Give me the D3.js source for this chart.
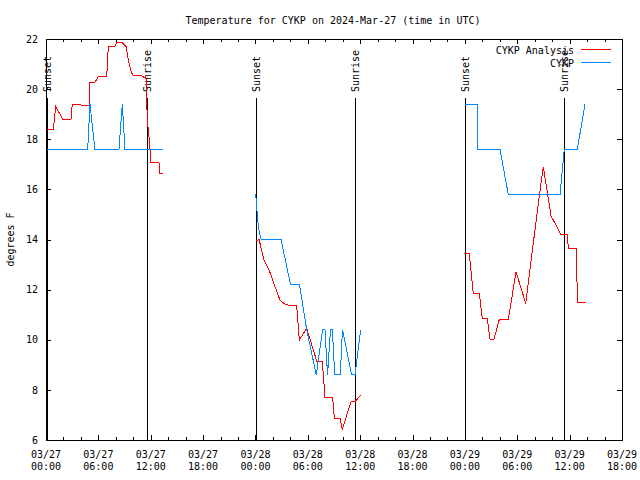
<!DOCTYPE html>
<html>
<head>
<meta charset="utf-8">
<script src="https://cdn.jsdelivr.net/npm/d3@7"></script>
<style>
  body { margin: 0; background: #fff; }
  text { font-family: "DejaVu Sans Mono", monospace; font-size: 10px; fill: #000; }
</style>
</head>
<body>
<svg id="chart" width="640" height="480"></svg>
<script>
// ---------------- data ----------------
const titleText = "Temperature for CYKP on 2024-Mar-27 (time in UTC)";
const yLabelText = "degrees F";
const startTime = "2024-03-27T00:00:00Z";
const spanHours = 66;
const xTickHours = [0, 6, 12, 18, 24, 30, 36, 42, 48, 54, 60, 66];
const xMinorHours = [2, 4, 8, 10, 14, 16, 20, 22, 26, 28, 32, 34, 38, 40, 44, 46, 50, 52, 56, 58, 62, 64];
const yTicks = [6, 8, 10, 12, 14, 16, 18, 20, 22];
const seriesNames = ["CYKP Analysis", "CYKP"];
const seriesColors = ["#ff0000", "#0088ff"];
const sunLabels = ["Sunset", "Sunrise", "Sunset", "Sunrise", "Sunset", "Sunrise"];
const sunHours = [0.1, 11.61, 24.06, 35.44, 48.05, 59.39];

// CYKP Analysis (null = gap)
const analysisHours = [
  0, 0.84, 1.11, 1.98, 2.86, 3.01, 3.98, 4.09, 4.96, 5.04, 5.61, 5.99, 6.96, 7.14, 7.91, 8.10, 8.67,
  9.17, 9.43, 9.82, 10.00, 10.77, 11.46, 11.61, 11.84, 12.03, 12.95, 13.06, 13.44,
  18,
  24.03, 24.41, 24.98, 25.47, 25.86, 26.24, 26.81, 27.31, 27.96, 28.73, 29.03, 29.87, 31.02, 31.66,
  31.97, 32.85, 33.04, 33.69, 33.95, 34.95, 35.41, 36.06,
  42,
  47.93, 48.50, 48.96, 49.65, 49.99, 50.56, 50.88, 51.33, 51.94, 52.97, 53.86, 54.97, 56.41, 56.98,
  57.87, 59.01, 59.73, 59.85, 60.73, 60.92, 61.84
];
const analysisTemps = [
  18.37, 18.37, 19.3, 18.77, 18.77, 19.4, 19.4, 19.33, 19.33, 20.27, 20.27, 20.5, 20.5, 21.72, 21.72, 21.87, 21.87,
  21.7, 21.16, 20.63, 20.56, 20.56, 20.43, 18.77, 17.97, 17.06, 17.06, 16.64, 16.64,
  null,
  13.94, 14.0, 13.18, 12.85, 12.52, 12.12, 11.58, 11.44, 11.35, 11.35, 9.99, 10.46, 9.15, 9.15,
  7.69, 7.69, 6.86, 6.86, 6.42, 7.53, 7.53, 7.79,
  null,
  13.45, 13.45, 11.85, 11.85, 10.85, 10.85, 10.02, 10.02, 10.81, 10.81, 12.71, 11.45, 15.44, 16.9,
  14.94, 14.2, 14.2, 13.65, 13.65, 11.49, 11.49
];

// CYKP observations (null = gap)
const obsHours = [
  0, 4.78, 5.04, 5.61, 8.36, 8.74, 9.05, 13.44,
  18,
  24.03, 24.15, 24.33, 24.64, 26.93, 28.02, 29.05, 29.87, 30.97, 31.69, 31.97, 32.26, 32.6, 32.81,
  33.09, 33.72, 33.97, 35.01, 35.41, 36.06,
  42,
  48.01, 49.42, 49.44, 52.02, 52.97, 58.90, 59.39, 60.88, 61.76
];
const obsTemps = [
  17.6, 17.6, 19.4, 17.6, 17.6, 19.4, 17.6, 17.6,
  null,
  15.8, 15.24, 14.5, 14.0, 14.0, 12.2, 12.2, 10.4, 8.6, 10.4, 10.4, 8.6, 10.4, 10.4,
  8.6, 8.6, 10.4, 8.6, 8.6, 10.4,
  null,
  19.4, 19.4, 17.6, 17.6, 15.8, 15.8, 17.6, 17.6, 19.4
];

// ---------------- chart ----------------
const t0 = new Date(startTime);
const hoursToDate = h => new Date(t0.getTime() + h * 3600e3);

const mLeft = 46, mRight = 622, mTop = 39, mBottom = 440;
const svg = d3.select("#chart");

const x = d3.scaleUtc().domain([t0, hoursToDate(spanHours)]).range([mLeft, mRight]);
const y = d3.scaleLinear().domain([6, 22]).range([mBottom, mTop]);

function styleAxis(g) {
  g.select(".domain").remove();
  g.selectAll("line").attr("stroke", "#000").attr("shape-rendering", "crispEdges");
  g.selectAll("text").attr("font-family", null).attr("font-size", null);
}

// x ticks: major and minor, bottom and top, inward
const majorDates = xTickHours.map(hoursToDate);
const minorDates = xMinorHours.map(hoursToDate);
svg.append("g").attr("transform", `translate(0,${mBottom})`)
  .call(d3.axisBottom(x).tickValues(majorDates).tickSize(-5).tickFormat(""))
  .call(styleAxis);
svg.append("g").attr("transform", `translate(0,${mBottom})`)
  .call(d3.axisBottom(x).tickValues(minorDates).tickSize(-3).tickFormat(""))
  .call(styleAxis);
svg.append("g").attr("transform", `translate(0,${mTop})`)
  .call(d3.axisTop(x).tickValues(majorDates).tickSize(-5).tickFormat(""))
  .call(styleAxis);
svg.append("g").attr("transform", `translate(0,${mTop})`)
  .call(d3.axisTop(x).tickValues(minorDates).tickSize(-3).tickFormat(""))
  .call(styleAxis);

// y ticks: left with labels, right mirrored
svg.append("g").attr("transform", `translate(${mLeft},0)`)
  .call(d3.axisLeft(y).tickValues(yTicks).tickSize(-5).tickPadding(8).tickFormat(d3.format("d")))
  .call(styleAxis);
svg.append("g").attr("transform", `translate(${mRight},0)`)
  .call(d3.axisRight(y).tickValues(yTicks).tickSize(-5).tickFormat(""))
  .call(styleAxis);

// x tick labels (two lines)
const fmtDate = d3.utcFormat("%m/%d");
const fmtTime = d3.utcFormat("%H:%M");
const xl = svg.append("g").selectAll("text").data(majorDates).join("text")
  .attr("text-anchor", "middle");
xl.append("tspan").attr("x", d => x(d)).attr("y", mBottom + 17.5).text(fmtDate);
xl.append("tspan").attr("x", d => x(d)).attr("y", mBottom + 29.5).text(fmtTime);

// sunrise / sunset lines
const sun = svg.append("g");
sun.selectAll("line").data(sunHours).join("line")
  .attr("x1", h => Math.round(x(hoursToDate(h))) + 0.5)
  .attr("x2", h => Math.round(x(hoursToDate(h))) + 0.5)
  .attr("y1", 98).attr("y2", mBottom)
  .attr("stroke", "#000").attr("shape-rendering", "crispEdges");
sun.selectAll("text").data(sunHours).join("text")
  .attr("transform", h => `translate(${x(hoursToDate(h)) + 0.5},92) rotate(-90)`)
  .attr("dy", "0.36em")
  .attr("text-anchor", "start")
  .text((h, i) => sunLabels[i]);

// series lines
const line = d3.line()
  .defined(d => d[1] !== null)
  .x(d => x(hoursToDate(d[0])))
  .y(d => y(d[1]));

const analysisData = analysisHours.map((h, i) => [h, analysisTemps[i]]);
const obsData = obsHours.map((h, i) => [h, obsTemps[i]]);

svg.append("path").datum(analysisData)
  .attr("d", line).attr("fill", "none").attr("stroke", seriesColors[0]).attr("stroke-width", 1)
  .attr("shape-rendering", "crispEdges");
svg.append("path").datum(obsData)
  .attr("d", line).attr("fill", "none").attr("stroke", seriesColors[1]).attr("stroke-width", 1)
  .attr("shape-rendering", "crispEdges");

// frame
svg.append("rect")
  .attr("x", mLeft + 0.5).attr("y", mTop + 0.5)
  .attr("width", mRight - mLeft).attr("height", mBottom - mTop)
  .attr("fill", "none").attr("stroke", "#000").attr("shape-rendering", "crispEdges");

// legend
const legendY = [49.5, 62.5];
const lg = svg.append("g");
seriesNames.forEach((name, i) => {
  lg.append("text").attr("x", 574).attr("y", legendY[i] + 4).attr("text-anchor", "end").text(name);
  lg.append("line").attr("x1", 581).attr("x2", 611).attr("y1", legendY[i]).attr("y2", legendY[i])
    .attr("stroke", seriesColors[i]).attr("shape-rendering", "crispEdges");
});

// title and y label
svg.append("text").attr("x", 333).attr("y", 24).attr("text-anchor", "middle").text(titleText);
svg.append("text").attr("transform", `translate(14,${(mTop + mBottom) / 2}) rotate(-90)`)
  .attr("text-anchor", "middle").text(yLabelText);
</script>
</body>
</html>
